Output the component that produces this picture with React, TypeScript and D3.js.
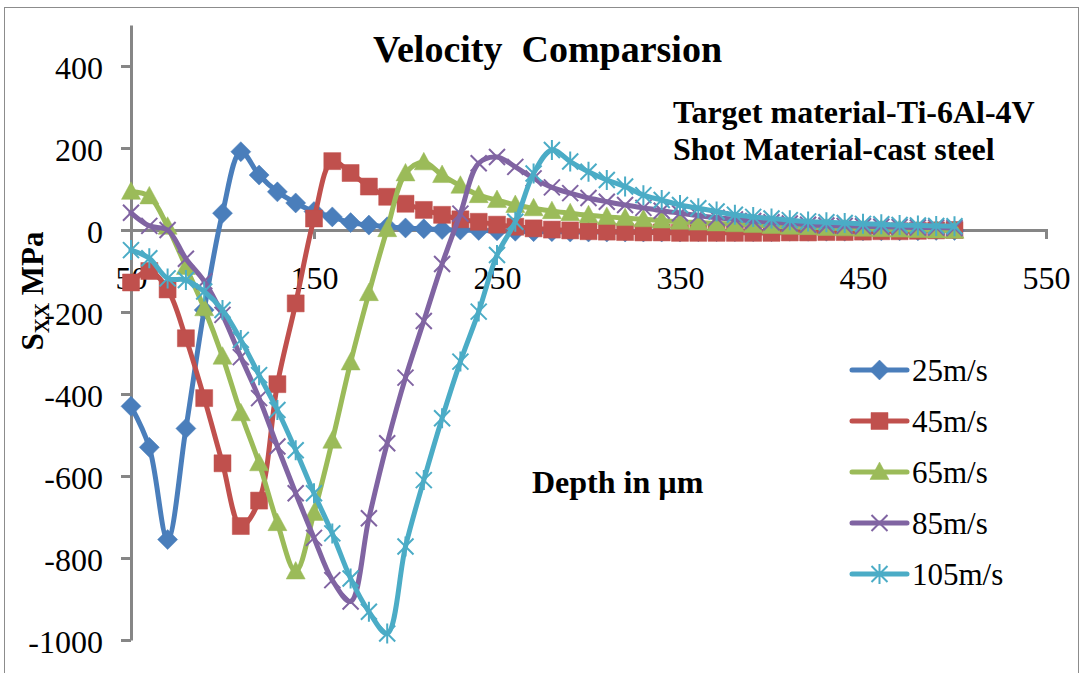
import React, { useEffect, useRef } from 'react'
import * as d3 from 'd3'

// depth in micrometres, one sample every 10 um
const depth = [50, 60, 70, 80, 90, 100, 110, 120, 130, 140, 150, 160, 170, 180, 190, 200, 210, 220, 230, 240,
  250, 260, 270, 280, 290, 300, 310, 320, 330, 340, 350, 360, 370, 380, 390, 400, 410, 420, 430, 440,
  450, 460, 470, 480, 490, 500]

// S_xx in MPa
const v25 = [-430, -530, -755, -484, -195, 41, 191, 134, 93, 66, 45, 32, 18, 12, 8, 5, 3, 1, 0, -1,
  -2, -3, -4, -4, -5, -5, -5, -5, -5, -5, -5, -4, -4, -4, -4, -4, -3, -3, -3, -3,
  -2, -2, -2, -2, -1, -1]
const v45 = [-128, -100, -145, -264, -410, -569, -722, -660, -376, -179, 28, 168, 139, 106, 81, 64, 49, 37, 26, 20,
  13, 8, 4, 1, -1, -3, -4, -5, -6, -6, -7, -7, -7, -7, -7, -7, -6, -6, -5, -5,
  -4, -3, -3, -2, -1, 0]
const v65 = [93, 82, 8, -90, -191, -309, -447, -569, -715, -833, -690, -514, -323, -154, 2, 138, 165, 134, 108, 85,
  73, 61, 53, 46, 41, 36, 32, 29, 26, 23, 20, 18, 16, 14, 12, 10, 8, 7, 5, 4,
  3, 2, 1, 0, -1, -2]
const v85 = [42, 10, 0, -70, -125, -207, -310, -410, -528, -642, -751, -854, -906, -703, -520, -360, -222, -83, 40, 163,
  178, 154, 126, 104, 90, 78, 69, 61, 54, 47, 41, 35, 30, 26, 22, 19, 16, 13, 11, 10,
  9, 8, 7, 6, 6, 5]
const v105 = [-49, -69, -118, -122, -150, -195, -268, -354, -439, -537, -642, -740, -850, -931, -984, -772, -610, -459, -321, -199,
  -61, 20, 138, 195, 167, 142, 122, 106, 85, 73, 61, 53, 45, 37, 32, 28, 24, 21, 19, 17,
  15, 14, 12, 11, 10, 9]

const seriesNames = ['25m/s', '45m/s', '65m/s', '85m/s', '105m/s']
const seriesValues = [v25, v45, v65, v85, v105]
const seriesColors = ['#4A7EBB', '#C0504D', '#9BBB59', '#8064A2', '#4BACC6']
const seriesMarkers = ['diamond', 'square', 'triangle', 'x', 'star']

const xTicks = [50, 150, 250, 350, 450, 550]
const yTicks = [-1000, -800, -600, -400, -200, 0, 200, 400]

const FONT = "'Liberation Serif', 'Times New Roman', serif"

function markerPath(kind: string): string {
  switch (kind) {
    case 'diamond': return 'M0,-10L10,0L0,10L-10,0Z'
    case 'square': return 'M-8.5,-8.5H8.5V8.5H-8.5Z'
    case 'triangle': return 'M0,-10L9.5,7.5H-9.5Z'
    case 'x': return 'M-8,-8L8,8M8,-8L-8,8'
    default: return 'M-8,-8L8,8M8,-8L-8,8M0,-10V10'
  }
}

function drawMarker(g: any, kind: string, color: string) {
  const open = kind === 'x' || kind === 'star'
  g.append('path')
    .attr('d', markerPath(kind))
    .attr('fill', open ? 'none' : color)
    .attr('stroke', color)
    .attr('stroke-width', open ? 2 : 0.5)
}

function Chart() {
  const ref = useRef<SVGSVGElement>(null)

  useEffect(() => {
    const svg = d3.select(ref.current)
    svg.selectAll('*').remove()

    const x = d3.scaleLinear().domain([50, 550]).range([131, 1046])
    const y = d3.scaleLinear().domain([-1000, 500]).range([640, 25])

    // chart frame
    svg.append('rect')
      .attr('x', 4.5).attr('y', 7.5)
      .attr('width', 1074).attr('height', 700)
      .attr('fill', 'white')
      .attr('stroke', '#8c8c8c')
      .attr('stroke-width', 1)

    // y axis
    const yAxis = svg.append('g')
      .attr('transform', `translate(${x(50)},0)`)
      .call(d3.axisLeft(y).tickValues(yTicks).tickSize(10).tickSizeOuter(0).tickPadding(18).tickFormat(d => String(d)))
    yAxis.select('.domain').attr('stroke', '#868686').attr('stroke-width', 3)
    yAxis.selectAll('.tick line').attr('stroke', '#868686').attr('stroke-width', 3)
    yAxis.selectAll('.tick text')
      .attr('fill', 'black').attr('font-family', FONT).attr('font-size', 32).attr('dy', '0.38em')

    // x axis crossing at zero
    const xAxis = svg.append('g')
      .attr('transform', `translate(0,${y(0)})`)
      .call(d3.axisBottom(x).tickValues(xTicks).tickSize(9).tickSizeOuter(9).tickPadding(27).tickFormat(d => String(d)))
    xAxis.select('.domain').attr('stroke', '#868686').attr('stroke-width', 3)
    xAxis.selectAll('.tick line').attr('stroke', '#868686').attr('stroke-width', 3)
    xAxis.selectAll('.tick text')
      .attr('fill', 'black').attr('font-family', FONT).attr('font-size', 32)

    // series
    const line = d3.line<number>()
      .x((_, i) => x(depth[i]))
      .y(d => y(d))
      .curve(d3.curveCatmullRom.alpha(0.5))

    seriesValues.forEach((vals, s) => {
      const color = seriesColors[s]
      svg.append('path')
        .datum(vals)
        .attr('d', line)
        .attr('fill', 'none')
        .attr('stroke', color)
        .attr('stroke-width', 5)
        .attr('stroke-linejoin', 'round')
        .attr('stroke-linecap', 'round')
      const marks = svg.append('g')
      vals.forEach((v, i) => {
        const m = marks.append('g').attr('transform', `translate(${x(depth[i])},${y(v)})`)
        drawMarker(m, seriesMarkers[s], color)
      })
    })

    // legend
    const legend = svg.append('g')
    seriesNames.forEach((name, s) => {
      const ly = 370 + s * 51
      const color = seriesColors[s]
      legend.append('line')
        .attr('x1', 852).attr('x2', 907).attr('y1', ly).attr('y2', ly)
        .attr('stroke', color).attr('stroke-width', 5).attr('stroke-linecap', 'round')
      drawMarker(legend.append('g').attr('transform', `translate(879.5,${ly})`), seriesMarkers[s], color)
      legend.append('text')
        .attr('x', 912).attr('y', ly + 11)
        .attr('font-family', FONT).attr('font-size', 31)
        .text(name)
    })

    // titles and notes
    svg.append('text')
      .attr('x', 373).attr('y', 62)
      .attr('font-family', FONT).attr('font-size', 38).attr('font-weight', 'bold')
      .style('white-space', 'pre')
      .text('Velocity  Comparsion')
    svg.append('text')
      .attr('x', 673).attr('y', 123)
      .attr('font-family', FONT).attr('font-size', 32).attr('font-weight', 'bold')
      .text('Target material-Ti-6Al-4V')
    svg.append('text')
      .attr('x', 673).attr('y', 160)
      .attr('font-family', FONT).attr('font-size', 32).attr('font-weight', 'bold')
      .text('Shot Material-cast steel')
    svg.append('text')
      .attr('x', 532).attr('y', 493)
      .attr('font-family', FONT).attr('font-size', 32).attr('font-weight', 'bold')
      .text('Depth in µm')

    // y axis title with subscript
    const yt = svg.append('text')
      .attr('transform', 'translate(43,291) rotate(-90)')
      .attr('text-anchor', 'middle')
      .attr('font-family', FONT).attr('font-size', 31).attr('font-weight', 'bold')
    yt.append('tspan').text('S')
    yt.append('tspan').attr('dy', 6).attr('font-size', 21).text('XX')
    yt.append('tspan').attr('dy', -6).text(' MPa')
  }, [])

  return <svg ref={ref} width={1084} height={673} style={{ position: 'absolute', left: 0, top: 0 }} />
}

export default function App() {
  return <Chart />
}
